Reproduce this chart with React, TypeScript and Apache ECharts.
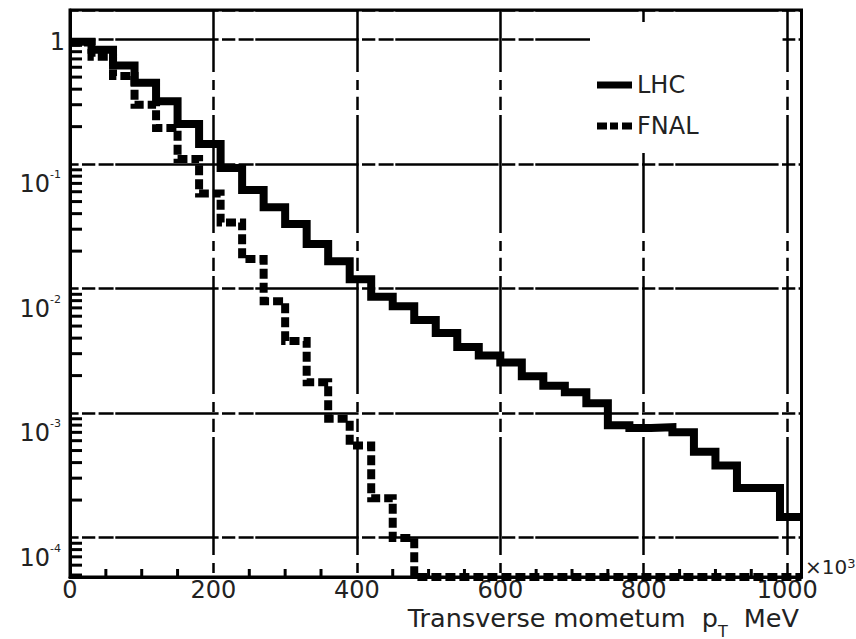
import React, { useEffect, useRef } from 'react';
import * as echarts from 'echarts';

// ---- data ----
const BIN_EDGES = [0, 30, 60, 90, 120, 150, 180, 210, 240, 270, 300, 330, 360, 390, 420, 450, 480, 510, 540, 570, 600, 630, 660, 690, 720, 750, 780, 810, 840, 870, 900, 930, 960, 990, 1020];

const LHC_VALUES = [0.96, 0.83, 0.62, 0.45, 0.32, 0.21, 0.145, 0.093, 0.062, 0.045, 0.033, 0.0228, 0.0166, 0.0119, 0.0086, 0.0072, 0.0056, 0.0044, 0.0034, 0.0029, 0.00255, 0.00198, 0.00166, 0.00147, 0.0012, 0.0008, 0.00076, 0.00077, 0.0007, 0.00049, 0.00038, 0.00025, 0.00025, 0.000146];

const FNAL_VALUES = [0.95, 0.73, 0.51, 0.3, 0.195, 0.11, 0.058, 0.034, 0.0173, 0.0079, 0.0038, 0.00177, 0.0009, 0.00055, 0.000207, 0.000099, 0, 0, 0, 0, 0, 0, 0, 0, 0, 0, 0, 0, 0, 0, 0, 0, 0, 0];

const X_TICK_LABELS = [0, 200, 400, 600, 800, 1000];
const X_MINOR_TICKS = [50, 100, 150, 250, 300, 350, 450, 500, 550, 650, 700, 750, 850, 900, 950];
const Y_DECADES = [1e-5, 1e-4, 1e-3, 1e-2, 1e-1];
const Y_MINOR_MULTIPLIERS = [2, 3, 4, 5, 6, 7, 8, 9];

const X_MIN = 0;
const X_MAX = 1020;
const Y_MIN = 4.82e-5;
const Y_MAX = 1.73;

const FONT = 'DejaVu Sans';
const TEXT_COLOR = '#222';

function toSteps(values: number[]) {
  return BIN_EDGES.map((x, i) => {
    const v = values[Math.min(i, values.length - 1)];
    return [x, v > 0 ? v : Y_MIN];
  });
}

const Y_MINOR_TICKS: number[] = [];
Y_DECADES.forEach((d) => {
  Y_MINOR_MULTIPLIERS.forEach((m) => {
    const v = d * m;
    if (v > Y_MIN && v < Y_MAX) Y_MINOR_TICKS.push(v);
  });
});

function yLabel(value: number) {
  const lg = Math.log10(value);
  const e = Math.round(lg);
  if (Math.abs(lg - e) > 1e-6) return '';
  if (e === 0) return '{one|1}';
  return '{b|10}{s|' + e + '}';
}

const txt = (size: number, extra: any = {}) => ({
  fontFamily: FONT,
  fontSize: size,
  fontWeight: 'normal',
  color: TEXT_COLOR,
  ...extra,
});

export default function App() {
  const ref = useRef<HTMLDivElement>(null);
  useEffect(() => {
    const chart = echarts.init(ref.current!, null, { renderer: 'svg' });
    const option: any = {
      animation: false,
      backgroundColor: '#ffffff',
      grid: {
        left: 70,
        right: 54.5,
        top: 10,
        bottom: 62,
        show: true,
        borderColor: '#000',
        borderWidth: 3,
        backgroundColor: 'transparent',
      },
      title: [
        {
          text: '{a|Transverse mometum  }{p|p}{s|T}{a|  MeV}',
          right: 57,
          top: 605,
          padding: 0,
          textStyle: {
            fontWeight: 'normal',
            rich: {
              a: txt(25.5, { lineHeight: 26, verticalAlign: 'top' }),
              p: txt(25.5, { lineHeight: 26, verticalAlign: 'top' }),
              s: txt(16, { lineHeight: 16, padding: [18, 0, 0, 0], verticalAlign: 'top' }),
            },
          },
        },
        {
          text: '{m|×10}{s|3}',
          left: 805,
          top: 557,
          padding: 0,
          textStyle: {
            fontWeight: 'normal',
            rich: {
              m: txt(20, { lineHeight: 22, verticalAlign: 'top' }),
              s: txt(13, { lineHeight: 13, verticalAlign: 'top' }),
            },
          },
        },
      ],
      legend: {
        data: [
          { name: 'LHC', icon: 'rect' },
          { name: 'FNAL', icon: 'path://M0,0h10v7h-10z M13,0h8v7h-8z M25,0h10v7h-10z' },
        ],
        orient: 'vertical',
        left: 590,
        top: 22,
        itemWidth: 35,
        itemHeight: 7,
        itemGap: 7,
        padding: [46, 84, 10, 7],
        backgroundColor: '#ffffff',
        selectedMode: false,
        itemStyle: { color: '#000', borderWidth: 0 },
        textStyle: txt(24, { lineHeight: 28, padding: [6, 0, 0, 0] }),
      },
      xAxis: {
        type: 'value',
        min: X_MIN,
        max: X_MAX,
        interval: 200,
        axisLine: { show: true, lineStyle: { color: '#000', width: 3 } },
        axisTick: { show: false },
        axisLabel: {
          margin: 3,
          fontFamily: FONT,
          fontSize: 24,
          lineHeight: 20,
          color: TEXT_COLOR,
          showMaxLabel: false,
          formatter: (v: number) => (X_TICK_LABELS.indexOf(v) >= 0 ? String(v) : ''),
        },
        splitLine: {
          show: true,
          lineStyle: { color: '#000', width: 2.5, type: [10, 6.7, 13.3, 5, 118, 8], dashOffset: 91.3 },
        },
      },
      yAxis: {
        type: 'log',
        logBase: 10,
        min: Y_MIN,
        max: Y_MAX,
        axisLine: { show: true, lineStyle: { color: '#000', width: 3 } },
        axisTick: { show: false },
        axisLabel: {
          margin: 5,
          formatter: yLabel,
          rich: {
            one: txt(24, { lineHeight: 24, padding: [4, 0, 0, 0] }),
            b: txt(24, { lineHeight: 24, padding: [20, 0, 0, 0], verticalAlign: 'top' }),
            s: txt(11, { lineHeight: 11, padding: [17, 4, 0, 0], verticalAlign: 'top' }),
          },
        },
        splitLine: {
          show: true,
          lineStyle: { color: '#000', width: 2.5, type: [13.3, 3.3, 15, 1.7, 103.3, 3.4], dashOffset: 128.3 },
        },
      },
      series: [
        {
          name: 'LHC',
          type: 'line',
          step: 'end',
          showSymbol: false,
          symbol: 'none',
          data: toSteps(LHC_VALUES),
          lineStyle: { color: '#000', width: 8, cap: 'butt', join: 'miter' },
          itemStyle: { color: '#000' },
          z: 3,
        },
        {
          name: 'FNAL',
          type: 'line',
          step: 'end',
          showSymbol: false,
          symbol: 'none',
          data: toSteps(FNAL_VALUES),
          lineStyle: { color: '#000', width: 8, type: [10, 4], cap: 'butt', join: 'miter' },
          itemStyle: { color: '#000' },
          z: 4,
        },
        {
          name: 'yMinor',
          type: 'custom',
          silent: true,
          clip: false,
          z: 5,
          data: Y_MINOR_TICKS.map((v) => [X_MIN, v]),
          renderItem: (params: any, api: any) => {
            const p = api.coord([api.value(0), api.value(1)]);
            return {
              type: 'line',
              shape: { x1: p[0], y1: p[1], x2: p[0] + 12, y2: p[1] },
              style: { stroke: '#000', lineWidth: 3 },
            };
          },
        },
        {
          name: 'xMinor',
          type: 'custom',
          silent: true,
          clip: false,
          z: 5,
          data: X_MINOR_TICKS.map((v) => [v, Y_MIN]),
          renderItem: (params: any, api: any) => {
            const p = api.coord([api.value(0), api.value(1)]);
            return {
              type: 'line',
              shape: { x1: p[0], y1: p[1], x2: p[0], y2: p[1] - 8 },
              style: { stroke: '#000', lineWidth: 3 },
            };
          },
        },
      ],
    };
    chart.setOption(option);
    return () => chart.dispose();
  }, []);
  return (
    <div
      ref={ref}
      style={{ position: 'absolute', left: 0, top: 0, width: 856, height: 639, background: '#fff' }}
    />
  );
}
